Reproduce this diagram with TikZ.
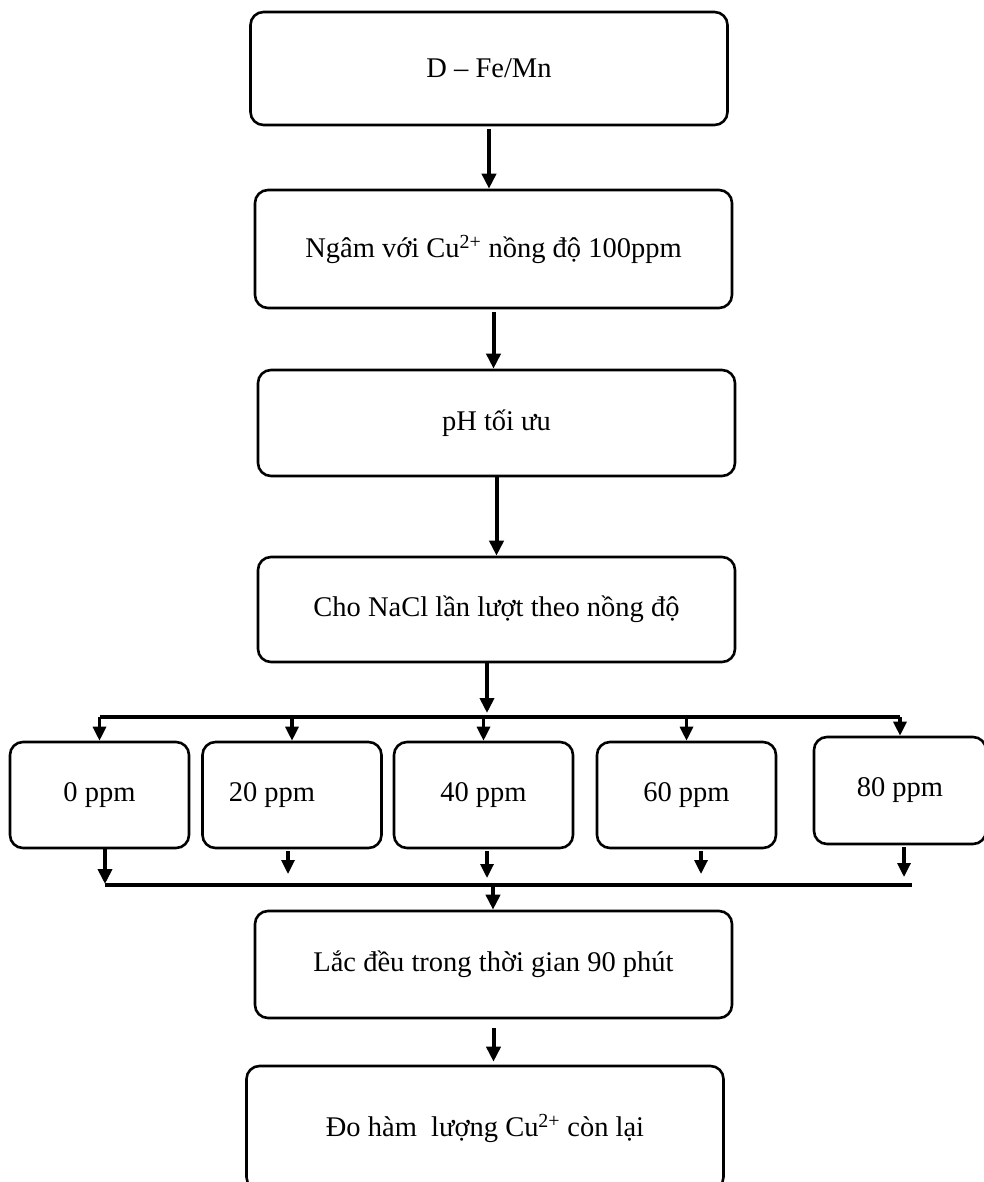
\documentclass[tikz,border=0pt]{standalone}
\usepackage{fontspec}
\setmainfont{Liberation Serif}
\usetikzlibrary{arrows.meta}
\tikzstyle{stepbox} = [draw, line width=2.6pt, rounded corners=13pt, align=center, inner sep=0pt, font=\fontsize{28.5}{34}\selectfont]
\tikzstyle{wide} = [stepbox, minimum width=477pt]
\tikzstyle{small} = [stepbox, minimum width=179pt, minimum height=106pt]
\tikzstyle{flow} = [line width=4pt, -{Triangle[width=14pt,length=15pt]}]
\tikzstyle{bar} = [line width=4pt]

\begin{document}
\begin{tikzpicture}[x=1pt,y=-1pt]
  \useasboundingbox (0,0) rectangle (983,1182);
  \node [wide, minimum height=113pt](fe) at (489, 68.5) {D -- Fe/Mn};
  \node [wide, minimum height=118pt](soak) at (493.5, 249) {Ngâm với Cu\textsuperscript{2+} nồng độ 100ppm};
  \node [wide, minimum height=106pt](ph) at (496.5, 423) {pH tối ưu};
  \node [wide, minimum height=105pt](nacl) at (496.5, 609.5) {Cho NaCl lần lượt theo nồng độ};
  \node [small](c0) at (99.5, 795) {0 ppm};
  \node [small](c20) at (292, 795) {\hspace*{-40pt}20 ppm};
  \node [small](c40) at (483.5, 795) {40 ppm};
  \node [small](c60) at (686.5, 795) {60 ppm};
  \node [small, minimum width=172pt, minimum height=107pt](c80) at (900, 790.5) {80 ppm};
  \node [wide, minimum height=107pt](shake) at (493.5, 964.5) {Lắc đều trong thời gian 90 phút};
  \node [wide, minimum height=124pt](measure) at (485, 1128) {Đo hàm\ \ lượng Cu\textsuperscript{2+} còn lại};
  \coordinate (split) at (487, 717);
  \coordinate (join) at (493, 885);

  \draw [flow, shorten <=3pt] (fe.south) -- (fe.south |- soak.north);
  \draw [flow, shorten <=3pt] (soak.south) -- (soak.south |- ph.north);
  \draw [flow] (ph.south) -- (ph.south |- nacl.north);
  \draw [flow] ([xshift=-9.5pt]nacl.south) -- ([yshift=4pt]split);
  \draw [bar] (c0.north |- split) -- (c80.north |- split);
  \foreach \c in {c0, c20, c40, c60, c80}
    \draw [flow, line width=3.2pt, -{Triangle[width=13pt,length=14pt]}] (\c.north |- split) -- (\c.north);
  \draw [flow] ([xshift=5.5pt]c0.south) -- ([xshift=5.5pt, yshift=1pt]c0.south |- join);
  \foreach \c/\s/\g in {c20/-4/11, c40/3.5/7, c60/14.5/11, c80/4/8}
    \draw [flow, line width=3.2pt, -{Triangle[width=13pt,length=14pt]}, shorten <=2pt] ([xshift=\s pt]\c.south) -- ([xshift=\s pt, yshift=\g pt]\c.south |- join);
  \draw [bar] ([xshift=5.5pt]c0.south |- join) -- ([xshift=12pt]c80.south |- join);
  \draw [flow] (join) -- (join |- shake.north);
  \draw [flow, shorten <=9pt, shorten >=3pt] (shake.south) -- (shake.south |- measure.north);
\end{tikzpicture}
\end{document}
